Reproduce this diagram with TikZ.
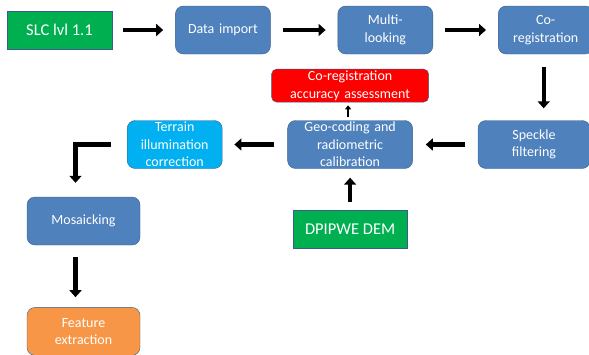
\documentclass[tikz,border=0pt]{standalone}
\usepackage{fontspec}
\setmainfont{Carlito}
\usetikzlibrary{arrows.meta, positioning}
\definecolor{boxblue}{HTML}{4F81BD}
\definecolor{boxedge}{HTML}{385D8A}
\definecolor{slcgreen}{HTML}{00B050}
\definecolor{terraincyan}{HTML}{00B0F0}
\definecolor{featureorange}{HTML}{F79646}
\tikzstyle{stepbox} = [rectangle, rounded corners=8pt, minimum width=95pt, minimum height=48pt, text width=91pt, align=center, inner sep=1pt, draw=boxedge, fill=boxblue, text=white, font=\fontsize{14}{17.5}\selectfont]
\tikzstyle{inputbox} = [rectangle, minimum height=38pt, align=center, inner sep=1pt, draw=boxedge, fill=slcgreen, text=white, font=\fontsize{16.5}{19}\selectfont]
\tikzstyle{arrow} = [line width=4.2pt, -{Triangle[width=12pt,length=7pt]}, shorten <=12pt, shorten >=12pt]
\tikzstyle{smallarrow} = [line width=2pt, -{Triangle[width=6pt,length=4pt]}, shorten <=3pt, shorten >=3pt]

\begin{document}
\begin{tikzpicture}[x=1pt, y=1pt, node distance=65pt]
\useasboundingbox (0,0) rectangle (589,-354);

% Nodes
\node (slc) [inputbox, minimum width=105pt] at (59.5,-30) {SLC lvl 1.1};
\node (data) [stepbox, right=63pt of slc] {Data import};
\node (multi) [stepbox, right=67pt of data] {Multi-\\looking};
\node (coreg) [stepbox, right=65pt of multi] {Co-\\registration};
\node (speckle) [stepbox, minimum width=112pt, text width=108pt] at (534,-144.5) {Speckle\\filtering};
\node (geo) [stepbox, minimum width=125pt, text width=121pt, left=of speckle] {Geo-coding and\\radiometric\\calibration};
\node (acc) [stepbox, fill=red, rounded corners=5pt, minimum width=157pt, text width=153pt, minimum height=33pt, above=18pt of geo] {Co-registration\\accuracy assessment};
\node (dem) [inputbox, minimum width=114pt, below=41pt of geo] {DPIPWE DEM};
\node (terrain) [stepbox, fill=terraincyan, left=of geo] {Terrain\\illumination\\correction};
\node (mosaic) [stepbox, minimum width=113pt, text width=109pt] at (83.5,-221) {Mosaicking};
\node (feature) [stepbox, fill=featureorange, minimum width=113pt, text width=109pt, below=62pt of mosaic] {Feature\\extraction};

% Arrows
\draw [arrow, shorten <=11pt] (slc) -- (data);
\draw [arrow] (data) -- (multi);
\draw [arrow] (multi) -- (coreg);
\draw [arrow, shorten <=13pt] ([xshift=-2pt]coreg.south) -- ([xshift=-2pt]coreg.south |- speckle.north);
\draw [arrow, shorten <=13pt, shorten >=13pt] (speckle) -- (geo);
\draw [smallarrow] ([xshift=-2pt]geo.north) -- ([xshift=-2pt]geo.north |- acc.south);
\draw [arrow, shorten <=8pt, shorten >=9pt] (dem) -- (geo);
\draw [arrow, shorten <=13pt] (geo) -- (terrain);
\draw [arrow, shorten <=16pt, shorten >=14pt] (terrain.west) -| ([xshift=-8pt]mosaic.north);
\draw [arrow, shorten >=10pt] ([xshift=-8pt]mosaic.south) -- ([xshift=-8pt]feature.north);

\end{tikzpicture}
\end{document}
